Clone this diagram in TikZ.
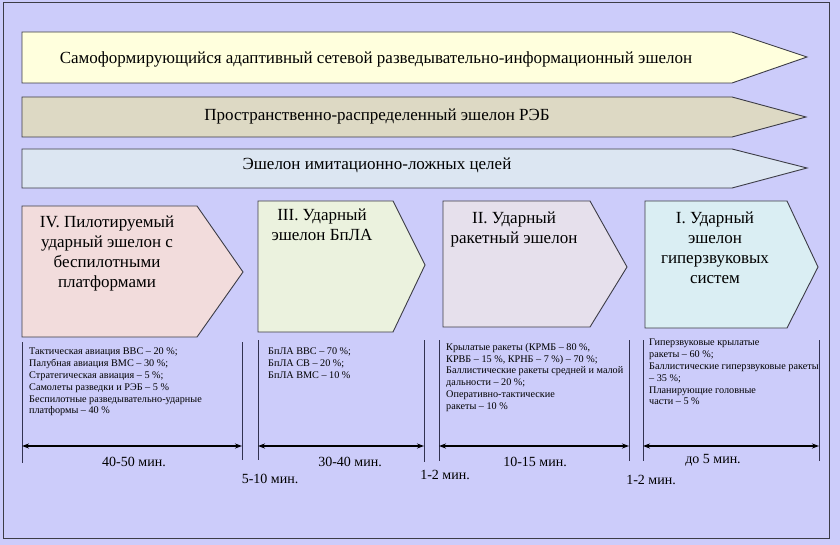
\documentclass[tikz,border=0pt]{standalone}
\usepackage{fontspec}
\setmainfont{Liberation Serif}
\usetikzlibrary{arrows.meta}
\definecolor{bg}{RGB}{204,204,250}
\definecolor{frameC}{RGB}{60,60,70}
\definecolor{banA}{RGB}{255,255,221}
\definecolor{banB}{RGB}{221,217,196}
\definecolor{banC}{RGB}{220,230,242}
\definecolor{pIV}{RGB}{242,220,220}
\definecolor{pIII}{RGB}{235,242,222}
\definecolor{pII}{RGB}{230,224,236}
\definecolor{pI}{RGB}{218,238,243}
\definecolor{vline}{RGB}{50,50,80}
\tikzset{
  outl/.style={draw=frameC, line width=0.9pt, line join=miter},
  bantext/.style={font=\fontsize{17}{19}\selectfont, inner sep=0pt},
  pentext/.style={font=\fontsize{17}{20}\selectfont, align=center, inner sep=0pt, anchor=north},
  listtext/.style={font=\fontsize{10.2}{11.8}\selectfont, align=left, inner sep=0pt, anchor=north west},
  timetext/.style={font=\fontsize{14}{16}\selectfont, inner sep=0pt},
  sep/.style={draw=vline, line width=0.8pt},
  span/.style={draw=black, line width=1.1pt, {Stealth[length=7pt,width=5pt]}-{Stealth[length=7pt,width=5pt]}}
}
\begin{document}
\begin{tikzpicture}[x=1pt,y=-1pt]
\useasboundingbox (0,0) rectangle (840,545);
\fill[bg] (0,0) rectangle (840,545);
\draw[frameC, line width=1pt] (3,3) rectangle (829,538);

% banners
\draw[outl, fill=banA] (22,32) -- (732,32) -- (807,57) -- (732,83) -- (22,83) -- cycle;
\node[bantext] (b1) at (376,59) {Самоформирующийся адаптивный сетевой разведывательно-информационный эшелон};
\draw[outl, fill=banB] (22,97) -- (732,97) -- (806,117) -- (732,137) -- (22,137) -- cycle;
\node[bantext] (b2) at (377,116) {Пространственно-распределенный эшелон РЭБ};
\draw[outl, fill=banC] (22,149) -- (732,149) -- (807,168) -- (732,188) -- (22,188) -- cycle;
\node[bantext] (b3) at (377,165) {Эшелон имитационно-ложных целей};

% pentagons
\draw[outl, fill=pIV] (22,206) -- (197,206) -- (243,272) -- (197,337) -- (22,337) -- cycle;
\node[pentext] (t4) at (107,216) {IV. Пилотируемый\\ударный эшелон с\\беспилотными\\платформами};
\draw[outl, fill=pIII] (258,201) -- (393,201) -- (425,265) -- (393,332) -- (258,332) -- cycle;
\node[pentext] (t3) at (322,209) {III. Ударный\\эшелон БпЛА};
\draw[outl, fill=pII] (443,201) -- (590,201) -- (627,267) -- (590,327) -- (443,327) -- cycle;
\node[pentext] (t2) at (514,212) {II. Ударный\\ракетный эшелон};
\draw[outl, fill=pI] (645,201) -- (787,201) -- (818,267) -- (787,328) -- (645,328) -- cycle;
\node[pentext] (t1) at (715,212) {I. Ударный\\эшелон\\гиперзвуковых\\систем};

% lists
\node[listtext] (l4) at (29,348) {Тактическая авиация ВВС – 20 \%;\\Палубная авиация ВМС – 30 \%;\\Стратегическая авиация – 5 \%;\\Самолеты разведки и РЭБ – 5 \%\\Беспилотные разведывательно-ударные\\платформы – 40 \%};
\node[listtext] (l3) at (268,348) {БпЛА ВВС – 70 \%;\\БпЛА СВ – 20 \%;\\БпЛА ВМС – 10 \%};
\node[listtext] (l2) at (446,343) {Крылатые ракеты (КРМБ – 80 \%,\\КРВБ – 15 \%, КРНБ – 7 \%) – 70 \%;\\Баллистические ракеты средней и малой\\дальности – 20 \%;\\Оперативно-тактические\\ракеты – 10 \%};
\node[listtext] (l1) at (649,339) {Гиперзвуковые крылатые\\ракеты – 60 \%;\\Баллистические гиперзвуковые ракеты\\– 35 \%;\\Планирующие головные\\части – 5 \%};

% separator lines
\coordinate (s4a) at (22,342); \coordinate (s4b) at (22,463);
\coordinate (e4a) at (242,342); \coordinate (e4b) at (242,460);
\coordinate (s3a) at (258,340); \coordinate (s3b) at (258,460);
\coordinate (e3a) at (424,340); \coordinate (e3b) at (424,462);
\coordinate (s2a) at (439,340); \coordinate (s2b) at (439,461);
\coordinate (e2a) at (629,340); \coordinate (e2b) at (629,461);
\coordinate (s1a) at (643,340); \coordinate (s1b) at (643,461);
\coordinate (e1a) at (819,340); \coordinate (e1b) at (819,461);
\foreach \n in {4,3,2,1}{
  \draw[sep] (s\n a) -- (s\n b);
  \draw[sep] (e\n a) -- (e\n b);
}
% spans
\coordinate (a4l) at (22,446); \coordinate (a4r) at (242,446);
\coordinate (a3l) at (258,446); \coordinate (a3r) at (424,446);
\coordinate (a2l) at (439,446); \coordinate (a2r) at (629,446);
\coordinate (a1l) at (643,446); \coordinate (a1r) at (819,446);
\draw[span] (a4l) -- (a4r);
\draw[span] (a3l) -- (a3r);
\draw[span] (a2l) -- (a2r);
\draw[span] (a1l) -- (a1r);

% time labels
\node[timetext] (m4) at (134,462) {40-50 мин.};
\node[timetext] (m3) at (350,462) {30-40 мин.};
\node[timetext] (m2) at (535,462) {10-15 мин.};
\node[timetext] (m1) at (713,460) {до 5 мин.};
\node[timetext] (g43) at (270,479) {5-10 мин.};
\node[timetext] (g32) at (445,475) {1-2 мин.};
\node[timetext] (g21) at (651,480) {1-2 мин.};
\end{tikzpicture}
\end{document}
